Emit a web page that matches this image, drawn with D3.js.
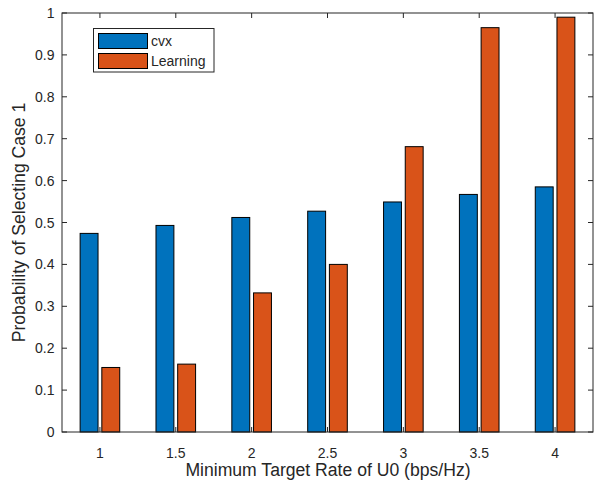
<!DOCTYPE html>
<html><head><meta charset="utf-8">
<script src="https://cdn.jsdelivr.net/npm/d3@7"></script>
<style>body{margin:0;background:#fff}svg{display:block}text{font-family:"Liberation Sans",Arial,Helvetica,sans-serif;fill:#262626}</style>
</head><body><svg id="c" width="594" height="482"></svg>
<script>
const categories = [1, 1.5, 2, 2.5, 3, 3.5, 4];
const cvx = [0.474, 0.493, 0.512, 0.527, 0.549, 0.567, 0.585];
const learning = [0.154, 0.162, 0.332, 0.400, 0.681, 0.965, 0.990];
const seriesNames = ["cvx", "Learning"];
const yTicks = [0, 0.1, 0.2, 0.3, 0.4, 0.5, 0.6, 0.7, 0.8, 0.9, 1];
const xTickLabels = ["1", "1.5", "2", "2.5", "3", "3.5", "4"];
const colors = ["#0072BD", "#D95319"];

const svg = d3.select("#c");
const L = 62, R = 593, T = 13, B = 432;
const x = d3.scaleLinear().domain([0.75, 4.25]).range([L, R]);
const y = d3.scaleLinear().domain([0, 1]).range([B, T]);
const off = 0.0715, bw = 0.118;
const series = [cvx, learning];
const pxW = x(0.75 + bw) - x(0.75);

series.forEach((vals, si) => {
  svg.append("g").selectAll("rect").data(vals).join("rect")
    .attr("x", (d, i) => x(categories[i] + (si === 0 ? -off : off)) - pxW / 2)
    .attr("y", d => y(d))
    .attr("width", pxW)
    .attr("height", d => y(0) - y(d))
    .attr("fill", colors[si])
    .attr("stroke", "#000").attr("stroke-width", 1);
});

const tickLen = 5;
const axisColor = "#262626";
const g = svg.append("g");
g.append("rect").attr("x", L).attr("y", T).attr("width", R - L).attr("height", B - T)
  .attr("fill", "none").attr("stroke", axisColor).attr("stroke-width", 1);

categories.forEach((c, i) => {
  g.append("line").attr("x1", x(c)).attr("x2", x(c)).attr("y1", B).attr("y2", B - tickLen).attr("stroke", axisColor);
  g.append("line").attr("x1", x(c)).attr("x2", x(c)).attr("y1", T).attr("y2", T + tickLen).attr("stroke", axisColor);
  g.append("text").attr("x", x(c)).attr("y", B + 25.5).attr("text-anchor", "middle")
    .attr("font-size", 14).text(xTickLabels[i]);
});
yTicks.forEach(t => {
  g.append("line").attr("x1", L).attr("x2", L + tickLen).attr("y1", y(t)).attr("y2", y(t)).attr("stroke", axisColor);
  g.append("line").attr("x1", R).attr("x2", R - tickLen).attr("y1", y(t)).attr("y2", y(t)).attr("stroke", axisColor);
  g.append("text").attr("x", L - 7.5).attr("y", y(t) + 5).attr("text-anchor", "end")
    .attr("font-size", 14).text(d3.format("~g")(t));
});

svg.append("text").attr("x", (L + R) / 2 + 0.5).attr("y", 476).attr("text-anchor", "middle")
  .attr("font-size", 17.6).text("Minimum Target Rate of U0 (bps/Hz)");
svg.append("text").attr("transform", `translate(25,${(T + B) / 2}) rotate(-90)`).attr("text-anchor", "middle")
  .attr("font-size", 17.6).text("Probability of Selecting Case 1");

const lg = svg.append("g");
lg.append("rect").attr("x", 93.5).attr("y", 28.5).attr("width", 120.5).attr("height", 43.5)
  .attr("fill", "#fff").attr("stroke", axisColor);
seriesNames.forEach((n, i) => {
  lg.append("rect").attr("x", 98.5).attr("y", 33.5 + i * 20).attr("width", 49).attr("height", 15)
    .attr("fill", colors[i]).attr("stroke", "#000");
  lg.append("text").attr("x", 151).attr("y", 46 + i * 20).attr("font-size", 14).text(n);
});
</script></body></html>
